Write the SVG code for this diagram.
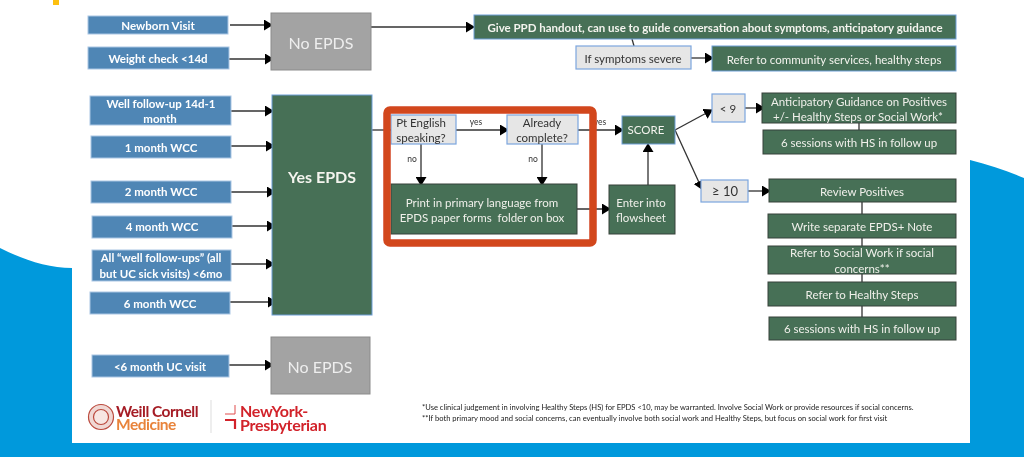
<svg xmlns="http://www.w3.org/2000/svg" width="1024" height="457" viewBox="0 0 1024 457">
<style>
text{font-family:Lato,"Open Sans","Liberation Sans",sans-serif;text-anchor:middle;dominant-baseline:central}
.b rect{fill:#4f86b5;stroke:#a9c6e4;stroke-width:1}
.b text{fill:#fff;font-size:11.5px;font-weight:700}
.n rect{fill:#a3a3a3;stroke:#8b8b8b;stroke-width:1}
.n text{fill:#eee;font-size:16px}
.g rect{fill:#466f56;stroke:#37423b;stroke-width:1}
.g text{fill:#f0f0ea;font-size:11.5px}
.gb rect{fill:#466f56;stroke:#6f9fd8;stroke-width:1}
.gb text{fill:#f4f4ee;font-size:11.5px}
.q rect{fill:#e6e6e6;stroke:#7ca6de;stroke-width:1.2}
.q text{fill:#333;font-size:11.5px}
.l{fill:#333;font-size:8.5px}
.c line,.c path{stroke:#333;stroke-width:1.3;fill:none}
.a{marker-end:url(#h)}
.f{font-size:7.6px;fill:#222;text-anchor:start}
.lg{text-anchor:start;font-weight:700}
</style>
<defs>
<marker id="h" markerWidth="9" markerHeight="11" refX="8" refY="5.5" orient="auto" markerUnits="userSpaceOnUse"><path d="M0 0L9 5.5L0 11Z" fill="#000"/></marker>
<filter id="s" x="-2%" y="-2%" width="104%" height="104%"><feGaussianBlur stdDeviation="0.4"/></filter>
</defs>
<rect width="1024" height="457" fill="#fff"/>
<g id="background" fill="#0099dc">
<path d="M0 248C24 260 48 268 72 268V443H970V160C990 165 1008 171 1024 178V457H0Z"/>
<rect x="53" y="0" width="6" height="5" fill="#fdc010"/>
</g>
<g filter="url(#s)">
<g id="connectors" class="c">
<line class="a" x1="230" y1="25" x2="272" y2="25"/>
<line class="a" x1="229" y1="59" x2="273" y2="59"/>
<line class="a" x1="231" y1="111" x2="273" y2="111"/>
<line class="a" x1="231" y1="146" x2="274" y2="146"/>
<line class="a" x1="231" y1="192" x2="275" y2="192"/>
<line class="a" x1="232" y1="226" x2="275" y2="226"/>
<line class="a" x1="231" y1="264" x2="274" y2="264"/>
<line class="a" x1="230" y1="302" x2="276" y2="302"/>
<line class="a" x1="229" y1="365" x2="273" y2="365"/>
<line class="a" x1="371" y1="27" x2="474" y2="27"/>
<line x1="632" y1="39" x2="634" y2="46"/>
<line class="a" x1="691" y1="58" x2="713" y2="58"/>
<line x1="372" y1="130" x2="391" y2="130"/>
<line class="a" x1="456" y1="130" x2="508" y2="130"/>
<line class="a" x1="578" y1="130" x2="623" y2="130"/>
<line class="a" x1="421" y1="144" x2="421" y2="185"/>
<line class="a" x1="542" y1="144" x2="542" y2="185"/>
<line class="a" x1="577" y1="209" x2="610" y2="209"/>
<line class="a" x1="648" y1="185" x2="648" y2="144"/>
<line class="a" x1="675" y1="130" x2="712" y2="110"/>
<line class="a" x1="675" y1="130" x2="702" y2="189"/>
<line class="a" x1="745" y1="108" x2="764" y2="108"/>
<line class="a" x1="748" y1="191" x2="770" y2="191"/>
<line x1="859" y1="123" x2="859" y2="130"/>
<line x1="862" y1="202" x2="862" y2="214"/>
<line x1="862" y1="238" x2="862" y2="246"/>
<line x1="862" y1="274" x2="862" y2="282"/>
<line x1="862" y1="306" x2="862" y2="317"/>
</g>
<text class="l" x="476" y="122">yes</text>
<text class="l" x="600" y="122">yes</text>
<text class="l" x="412" y="159">no</text>
<text class="l" x="533" y="159">no</text>
<g id="newborn" class="b"><rect x="88" y="16" width="140" height="18"/><text x="158" y="25">Newborn Visit</text></g>
<g id="weight" class="b"><rect x="88" y="47" width="141" height="22"/><text x="158" y="58">Weight check &lt;14d</text></g>
<g id="well" class="b"><rect x="90" y="96" width="141" height="29"/><text x="161" y="103">Well follow-up 14d-1</text><text x="160" y="118.5">month</text></g>
<g id="m1" class="b"><rect x="91" y="136" width="140" height="22"/><text x="161" y="147">1 month WCC</text></g>
<g id="m2" class="b"><rect x="91" y="181" width="140" height="22"/><text x="161" y="191">2 month WCC</text></g>
<g id="m4" class="b"><rect x="92" y="216" width="140" height="22"/><text x="162" y="226">4 month WCC</text></g>
<g id="all" class="b"><rect x="92" y="250" width="139" height="31"/><text x="161" y="257">All “well follow-ups” (all</text><text x="161" y="273">but UC sick visits) &lt;6mo</text></g>
<g id="m6" class="b"><rect x="90" y="292" width="140" height="22"/><text x="160" y="303">6 month WCC</text></g>
<g id="uc" class="b"><rect x="92" y="355" width="137" height="22"/><text x="160" y="366">&lt;6 month UC visit</text></g>
<g id="no1" class="n"><rect x="271" y="13" width="100" height="57"/><text x="321" y="42">No EPDS</text></g>
<g id="no2" class="n"><rect x="271" y="337" width="99" height="57"/><text x="320" y="366">No EPDS</text></g>
<g id="yes" class="gb"><rect x="272" y="95" width="100" height="220"/><text x="322" y="176" style="font-size:16px;font-weight:700">Yes EPDS</text></g>
<g id="handout" class="gb"><rect x="474" y="15" width="482" height="24"/><text x="715" y="27" style="font-weight:700">Give PPD handout, can use to guide conversation about symptoms, anticipatory guidance</text></g>
<g id="severe" class="q"><rect x="576" y="46" width="115" height="23"/><text x="633" y="58">If symptoms severe</text></g>
<g id="refer" class="gb"><rect x="712" y="46" width="244" height="25"/><text x="834" y="59">Refer to community services, healthy steps</text></g>
<g id="english" class="q"><rect x="391" y="115" width="65" height="29"/><text x="421" y="122">Pt English</text><text x="421" y="137.5">speaking?</text></g>
<g id="complete" class="q"><rect x="507" y="115" width="71" height="29"/><text x="542" y="122">Already</text><text x="542" y="137.5">complete?</text></g>
<g id="print" class="g"><rect x="391" y="184" width="186" height="50"/><text x="482" y="202">Print in primary language from</text><text x="482" y="217" xml:space="preserve">EPDS paper forms  folder on box</text></g>
<g id="flowsheet" class="g"><rect x="609" y="185" width="66" height="49"/><text x="641" y="202">Enter into</text><text x="641" y="217">flowsheet</text></g>
<g id="score" class="gb"><rect x="622" y="116" width="53" height="28"/><text x="646" y="129">SCORE</text></g>
<g id="lt9" class="q"><rect x="712" y="94" width="33" height="28"/><text x="728" y="108">&lt; 9</text></g>
<g id="ge10" class="q"><rect x="701" y="180" width="47" height="22"/><text x="725" y="191" style="font-size:13px">≥ 10</text></g>
<g id="anticipatory" class="g"><rect x="762" y="93" width="194" height="30"/><text x="859" y="101">Anticipatory Guidance on Positives</text><text x="858" y="116">+/- Healthy Steps or Social Work*</text></g>
<g id="sessions1" class="g"><rect x="763" y="130" width="193" height="24"/><text x="859" y="142">6 sessions with HS in follow up</text></g>
<g id="review" class="g"><rect x="769" y="179" width="187" height="23"/><text x="862" y="191">Review Positives</text></g>
<g id="note" class="g"><rect x="768" y="214" width="188" height="24"/><text x="862" y="226">Write separate EPDS+ Note</text></g>
<g id="sw" class="g"><rect x="768" y="246" width="188" height="28"/><text x="862" y="252">Refer to Social Work if social</text><text x="862" y="268">concerns**</text></g>
<g id="hs" class="g"><rect x="768" y="282" width="188" height="24"/><text x="862" y="294">Refer to Healthy Steps</text></g>
<g id="sessions2" class="g"><rect x="769" y="317" width="187" height="23"/><text x="862" y="328">6 sessions with HS in follow up</text></g>
<rect id="highlight" x="387" y="110" width="206" height="133" rx="3" fill="none" stroke="#d2461f" stroke-width="7.5"/>
<g id="notes">
<text class="f" x="422" y="407">*Use clinical judgement in involving Healthy Steps (HS) for EPDS &lt;10, may be warranted. Involve Social Work or provide resources if social concerns.</text>
<text class="f" x="422" y="418">**If both primary mood and social concerns, can eventually involve both social work and Healthy Steps, but focus on social work for first visit</text>
</g>
<g id="logos">
<circle cx="101" cy="417" r="12.5" fill="#f0d8d4" stroke="#bb4a3e" stroke-width="1.2"/>
<circle cx="101" cy="417" r="7.5" fill="#f7e6e2" stroke="#bb4a3e" stroke-width="1.2"/>
<text class="lg" style="font-size:15.5px;letter-spacing:-.5px"><tspan x="116" y="411" fill="#a51d25">Weill Cornell</tspan><tspan x="116" y="423.5" fill="#e8833a">Medicine</tspan></text>
<line x1="211" y1="400" x2="211" y2="433" stroke="#ddd"/>
<path d="M225 414H235V405" fill="none" stroke="#e04a4a" stroke-width="1"/>
<path d="M225 420H235V429" fill="none" stroke="#d2232a" stroke-width="2.2"/>
<text class="lg" style="font-size:16px;letter-spacing:-.3px" fill="#d2232a"><tspan x="240" y="410">NewYork-</tspan><tspan x="240" y="424">Presbyterian</tspan></text>
</g>
</g>
</svg>
